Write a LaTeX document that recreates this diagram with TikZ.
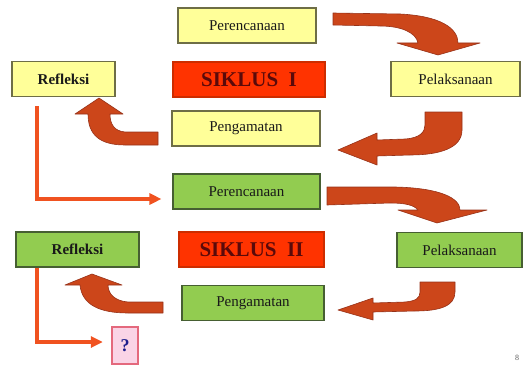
\documentclass[tikz,border=0pt]{standalone}
\usepackage{fontspec}
\setmainfont{Liberation Serif}
\usetikzlibrary{arrows.meta}

\definecolor{boxyellow}{RGB}{255,255,153}
\definecolor{yellowedge}{RGB}{110,110,70}
\definecolor{boxgreen}{RGB}{146,204,80}
\definecolor{greenedge}{RGB}{70,95,50}
\definecolor{boxred}{RGB}{255,51,0}
\definecolor{rededge}{RGB}{205,45,0}
\definecolor{titletext}{RGB}{90,10,10}
\definecolor{arrowred}{RGB}{204,70,26}
\definecolor{arrowedge}{RGB}{150,50,25}
\definecolor{linkred}{RGB}{240,82,32}
\definecolor{qpink}{RGB}{250,212,230}
\definecolor{qedge}{RGB}{228,105,125}
\definecolor{qtext}{RGB}{30,30,140}

\begin{document}
\begin{tikzpicture}[
    x=1pt, y=-1pt,
    box/.style={rectangle, draw, line width=1.1pt, inner sep=0pt, minimum height=35pt, font=\fontsize{15}{18}\selectfont},
    yellow_box/.style={box, fill=boxyellow, draw=yellowedge, text=black!90},
    green_box/.style={box, fill=boxgreen, draw=greenedge, text=black!90},
    reflect/.style={font=\fontsize{15}{18}\selectfont\bfseries},
    title_box/.style={box, fill=boxred, draw=rededge, text=titletext, font=\fontsize{21}{25}\selectfont\bfseries},
    q_box/.style={rectangle, draw=qedge, line width=2.4pt, fill=qpink, inner sep=0pt, minimum width=26pt, minimum height=37pt, text=qtext, font=\fontsize{18}{20}\selectfont\bfseries},
    block_arrow/.style={fill=arrowred, draw=arrowedge, line width=0.6pt, line join=round},
    link/.style={draw=linkred, line width=3.2pt, -{Triangle[length=12pt,width=11pt]}}
]
\useasboundingbox (0,0) rectangle (524,369);

% Siklus I
\node[yellow_box, minimum width=138pt] (per1) at (247,25.5) {Perencanaan};
\node[title_box, minimum width=152pt] (sik1) at (249,79.5) {SIKLUS~~I};
\node[yellow_box, reflect, minimum width=103pt] (ref1) at (63.5,79) {Refleksi};
\node[yellow_box, minimum width=129pt] (pel1) at (455.5,79) {Pelaksanaan};
\node[yellow_box, minimum width=148pt] (peng1) at (246,128.5) {Pengamatan};

% Siklus II
\node[green_box, minimum width=147pt] (per2) at (246.5,191.5) {Perencanaan};
\node[title_box, minimum width=145pt] (sik2) at (251.5,249.5) {SIKLUS~~II};
\node[green_box, reflect, minimum width=123pt] (ref2) at (77.5,249.5) {Refleksi};
\node[green_box, minimum width=125pt] (pel2) at (459.5,250) {Pelaksanaan};
\node[green_box, minimum width=142pt] (peng2) at (253,303) {Pengamatan};

% next cycle
\node[q_box] (next) at (125,345.5) {?};

% slide number
\node[font=\fontsize{8}{9}\selectfont, text=black!65] (page) at (517,358) {8};

% curved arrows, cycle I
\path[block_arrow] (333,13) -- (400,14) .. controls (440,16) and (458,28) .. (458,43)
  -- (480,43) -- (438,55) -- (397,43) -- (418,43) .. controls (416,32) and (400,26) .. (380,26)
  -- (333,25) -- cycle;
\path[block_arrow] (425,112) -- (462,112) -- (462,130) .. controls (462,148) and (440,155) .. (410,155)
  -- (377,156) -- (377,165) -- (338,150) -- (377,133) -- (377,140) -- (405,139)
  .. controls (420,138) and (425,132) .. (425,125) -- cycle;
\path[block_arrow] (158,132) -- (125,132) .. controls (114,131) and (110,124) .. (110,114)
  -- (123,114) -- (99,98) -- (75,114) -- (88,114) .. controls (88,135) and (100,145) .. (125,145)
  -- (158,145) -- cycle;

% curved arrows, cycle II
\path[block_arrow] (327,187) -- (395,187) .. controls (440,188) and (460,198) .. (460,210)
  -- (487,210) -- (437,223) -- (398,210) -- (418,210) .. controls (414,205) and (405,203) .. (390,203)
  -- (327,205) -- cycle;
\path[block_arrow] (420,282) -- (455,282) -- (455,292) .. controls (455,306) and (440,311) .. (415,311)
  -- (373,312) -- (373,320) -- (338,310) -- (373,298) -- (373,303) -- (405,302)
  .. controls (416,301) and (420,298) .. (420,292) -- cycle;
\path[block_arrow] (163,302) -- (128,302) .. controls (115,301) and (108,294) .. (108,285)
  -- (122,285) -- (92,274) -- (65,285) -- (80,285) .. controls (82,305) and (100,313) .. (128,313)
  -- (163,313) -- cycle;

% Refleksi -> next Perencanaan
\draw[link, shorten <=9pt, shorten >=11pt] ([xshift=-26.5pt]ref1.south) |- ([yshift=-7.5pt]per2.west);
\draw[link, shorten >=8pt] ([xshift=-40.5pt]ref2.south) |- ([yshift=3.5pt]next.west);

\end{tikzpicture}
\end{document}
